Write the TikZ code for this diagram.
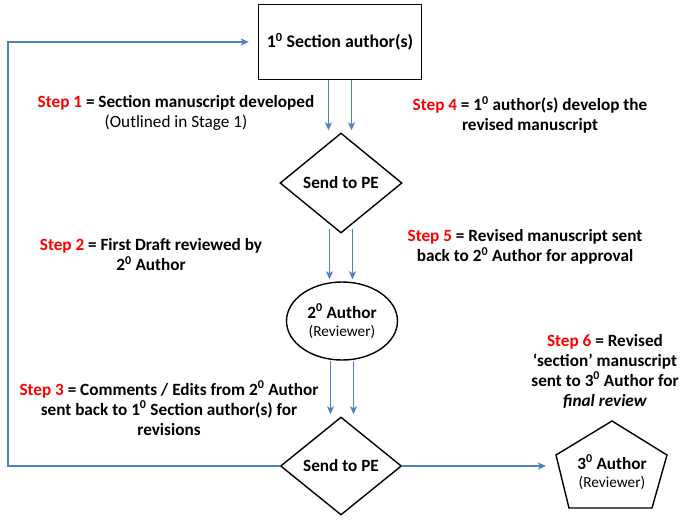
\documentclass[tikz,border=0pt]{standalone}
\usepackage{fontspec}
\setmainfont{Carlito}
\usetikzlibrary{arrows.meta, shapes.geometric, positioning}
\definecolor{flowblue}{RGB}{79,129,189}
\newcommand{\stp}[1]{\textcolor{red}{Step #1}}
\newcommand{\ord}[1]{#1\textsuperscript{0}}

\begin{document}
\begin{tikzpicture}[x=1pt, y=-1pt,
    every node/.style={font=\fontsize{17.2}{20}\selectfont\bfseries},
    box/.style={draw, line width=1.4pt},
    flow/.style={draw=flowblue, line width=1.4pt, -{Stealth[length=8pt,width=7pt,inset=2pt]}},
    steptext/.style={align=center}]
  \useasboundingbox (0,0) rectangle (683,520);
  % main column
  \node[box, rectangle, minimum width=163pt, minimum height=75pt, font=\fontsize{17.8}{20}\selectfont\bfseries] (sec) at (340,42) {\ord{1} Section author(s)};
  \node[box, diamond, inner sep=0pt, minimum width=122pt, minimum height=100pt] (pe1) at (341,183) {Send to PE};
  \node[box, ellipse, align=center, inner sep=0pt, minimum width=111pt, minimum height=78pt] (rev2) at (342,321)
    {\ord{2} Author\\[-2pt]{\fontsize{15.3}{17}\selectfont\mdseries (Reviewer)}};
  \node[box, diamond, inner sep=0pt, minimum width=121pt, minimum height=98pt] (pe2) at (341,466) {Send to PE};
  % final reviewer (pentagon)
  \node[align=center] (rev3) at (612,472) {\ord{3} Author\\[-2pt]{\fontsize{15.3}{17}\selectfont\mdseries (Reviewer)}};
  \coordinate (p1) at (612,421);
  \coordinate (p2) at (667,455);
  \coordinate (p3) at (652,508);
  \coordinate (p4) at (569,508);
  \coordinate (p5) at (556,455);
  \draw[box] (p1) -- (p2) -- (p3) -- (p4) -- (p5) -- cycle;
  % step labels
  \node[steptext] (s1) at (176,113) {\stp{1} = Section manuscript developed\\ {\mdseries (Outlined in Stage 1)}};
  \node[steptext] (s4) at (530,115) {\stp{4} = \ord{1} author(s) develop the\\ revised manuscript};
  \node[steptext] (s2) at (151,255) {\stp{2} = First Draft reviewed by\\ \ord{2} Author};
  \node[steptext] (s5) at (525,247) {\stp{5} = Revised manuscript sent\\ back to \ord{2} Author for approval};
  \node[steptext] (s3) at (169,408) {\stp{3} = Comments / Edits from \ord{2} Author\\ sent back to \ord{1} Section author(s) for\\ revisions};
  \node[steptext] (s6) at (605,371) {\stp{6} = Revised\\ ‘section’ manuscript\\ sent to \ord{3} Author for\\ \textit{final review}};
  % paired arrows down the column
  \foreach \dx in {-11.5,11.5} {
    \draw[flow, shorten >=2pt] ([xshift=\dx pt]sec.south) -- ([xshift=\dx pt]sec.south |- pe1.north);
    \draw[flow, shorten >=2pt] ([xshift=\dx pt, yshift=5pt]pe1.south) -- ([xshift=\dx pt]pe1.south |- rev2.north);
    \draw[flow, shorten >=2pt] ([xshift=\dx pt]rev2.south) -- ([xshift=\dx pt]rev2.south |- pe2.north);
  }
  % feedback loop and hand-over
  \coordinate (lb) at (8,466);
  \coordinate (lt) at (8,42);
  \draw[flow, shorten >=9pt] (pe2.west) -- (lb) -- (lt) -- (sec.west);
  \draw[flow, shorten >=10pt] (pe2.east) -- (pe2.east -| p5);
\end{tikzpicture}
\end{document}
